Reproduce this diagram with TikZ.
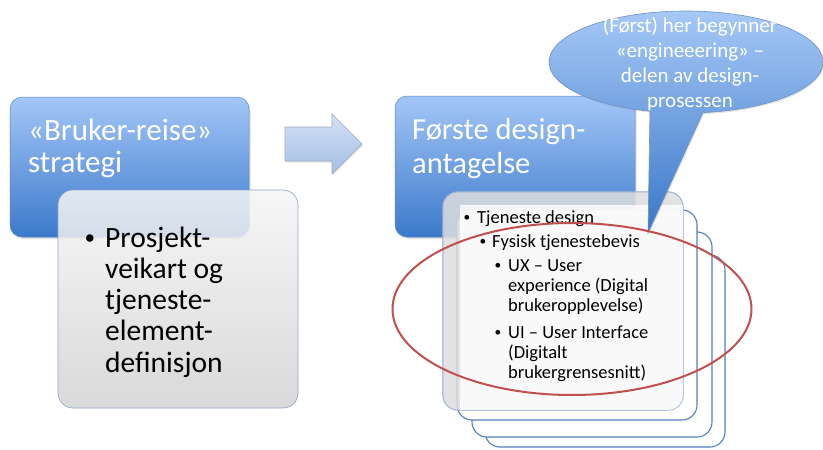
\documentclass[tikz,border=0pt]{standalone}
\usepackage{fontspec}
\setmainfont{Carlito}
\usetikzlibrary{shadows,shapes.geometric}

\definecolor{bluetop}{HTML}{A3C6F7}
\definecolor{bluebot}{HTML}{3C79CB}
\definecolor{blueedge}{HTML}{5A88C8}
\definecolor{arrtop}{HTML}{D2E0F4}
\definecolor{arrbot}{HTML}{A6BFE5}
\definecolor{arredge}{HTML}{9AAAC2}
\definecolor{greytop}{HTML}{F6F6F6}
\definecolor{greybot}{HTML}{D3D3D3}
\definecolor{greyedge}{HTML}{8EA7CA}
\definecolor{cardedge}{HTML}{4F81BD}
\definecolor{frontedge}{HTML}{9DB4D4}
\definecolor{ringred}{HTML}{C0504D}
\definecolor{calltop}{HTML}{A8CAF7}
\definecolor{callbot}{HTML}{3A77C8}
\definecolor{calledge}{HTML}{6F90C2}

% small list bullet hung to the left of the item text
\newcommand{\itembullet}[1]{\leavevmode\llap{\raisebox{0.08em}{\scalebox{0.72}{•}}\hspace{#1}}}

\begin{document}
\begin{tikzpicture}[x=1pt,y=-1pt,
  bluebox/.style={rectangle, rounded corners=12pt, top color=bluetop,
    bottom color=bluebot, draw=blueedge, line width=0.5pt, inner sep=0pt,
    drop shadow={opacity=0.25, shadow xshift=1.5pt, shadow yshift=-2pt}},
  greybox/.style={rectangle, rounded corners=15pt, top color=greytop,
    bottom color=greybot, fill opacity=0.85, draw=greyedge, line width=0.6pt,
    inner sep=0pt},
  backcard/.style={rectangle, rounded corners=15pt, fill=white,
    draw=cardedge, line width=1.1pt, inner sep=0pt},
  frontcard/.style={rectangle, rounded corners=15pt, fill=black!13,
    fill opacity=0.85, draw=frontedge, line width=0.6pt, inner sep=0pt},
  titletext/.style={anchor=base west, inner sep=0pt, text=white},
  bodytext/.style={anchor=base west, inner sep=0pt, text=black,
    font=\fontsize{29.5}{31.3}\selectfont},
  cardtext/.style={anchor=base west, inner sep=0pt, text=black,
    font=\fontsize{18.5}{20.3}\selectfont},
  calltext/.style={anchor=base, inner sep=0pt, text=white,
    font=\fontsize{21}{25.3}\selectfont},
  ringstyle/.style={ellipse, draw=ringred, line width=2pt, inner sep=0pt},
  calloutstyle/.style={top color=calltop, bottom color=callbot,
    draw=calledge, line width=0.6pt},
  arrowstyle/.style={top color=arrtop, bottom color=arrbot, draw=arredge,
    line width=0.6pt, drop shadow={opacity=0.2, shadow xshift=1pt, shadow yshift=-1.5pt}}
]
\useasboundingbox (0,0) rectangle (823,450);
\fill[white] (0,0) rectangle (823,450);

% left column: heading box with its content box
\node[bluebox, minimum width=239pt, minimum height=140pt] (lhead) at (129.5,167) {};
\node[titletext, font=\fontsize{31}{32}\selectfont] (ltitle) at (28,140)
  {\parbox[t]{215pt}{\raggedright «Bruker-reise»\\strategi}};
\node[greybox, minimum width=240pt, minimum height=218pt] (lbody) at (178,299) {};
\node[bodytext] (ltext) at (105,247)
  {\parbox[t]{180pt}{\raggedright\itembullet{10pt}Prosjekt-\\veikart og\\tjeneste-\\element-\\definisjon}};

% block arrow between the columns
\coordinate (a1) at (285,127);
\coordinate (a2) at (332,127);
\coordinate (a3) at (332,114);
\coordinate (a4) at (362,144);
\coordinate (a5) at (332,174);
\coordinate (a6) at (332,161);
\coordinate (a7) at (285,161);
\path[arrowstyle] (a1) -- (a2) -- (a3) -- (a4) -- (a5) -- (a6) -- (a7) -- cycle;

% right column: heading box
\node[bluebox, minimum width=240pt, minimum height=141pt] (rhead) at (515,166.5) {};
\node[titletext, font=\fontsize{30.5}{34}\selectfont] (rtitle) at (412,139)
  {\parbox[t]{215pt}{\raggedright Første design-\\antagelse}};

% stack of cards behind the content card
\node[backcard, minimum width=240pt, minimum height=192pt] (card3) at (605,351) {};
\node[backcard, minimum width=240pt, minimum height=205pt] (card2) at (592,334.5) {};
\node[backcard, minimum width=240pt, minimum height=210pt] (card1) at (577,315) {};

% front content card: grey rim with a light inner face
\node[frontcard, minimum width=240pt, minimum height=218pt] (front) at (563,301) {};
\begin{scope}
  \clip[rounded corners=15pt] (front.north west) rectangle (front.south east);
  \fill[white, fill opacity=0.8] (460,205) rectangle (690,420);
\end{scope}
\draw[frontedge, line width=0.6pt, rounded corners=15pt]
  (front.north west) rectangle (front.south east);

\node[cardtext] (c1) at (477,223)
  {\parbox[t]{200pt}{\raggedright\itembullet{7pt}Tjeneste design}};
\node[cardtext] (c2) at (492,247)
  {\parbox[t]{200pt}{\raggedright\itembullet{6pt}Fysisk tjenestebevis}};
\node[cardtext] (c3) at (508,271)
  {\parbox[t]{200pt}{\raggedright\itembullet{7pt}UX – User\\experience (Digital\\brukeropplevelse)}};
\node[cardtext] (c4) at (508,338)
  {\parbox[t]{200pt}{\raggedright\itembullet{7pt}UI – User Interface\\(Digitalt\\brukergrensesnitt)}};

% speech bubble with its pointer
\coordinate (cc) at (686,62);
\coordinate (tip) at (648,233);
\path[calloutstyle, drop shadow={opacity=0.2, shadow xshift=1pt, shadow yshift=-1.5pt}]
  (cc) ++(105.24:137 and 51)
  arc[start angle=105.24, end angle=442.87, x radius=137, y radius=51]
  -- (tip) -- cycle;
\node[calltext] (ctext) at (690,32)
  {\parbox[t]{210pt}{\centering (Først) her begynner\\«engineeering» –\\delen av design-\\prosessen}};

% red ring marking the digital part
\node[ringstyle, minimum width=359pt, minimum height=172pt] (ring) at (572,309) {};
\end{tikzpicture}
\end{document}
